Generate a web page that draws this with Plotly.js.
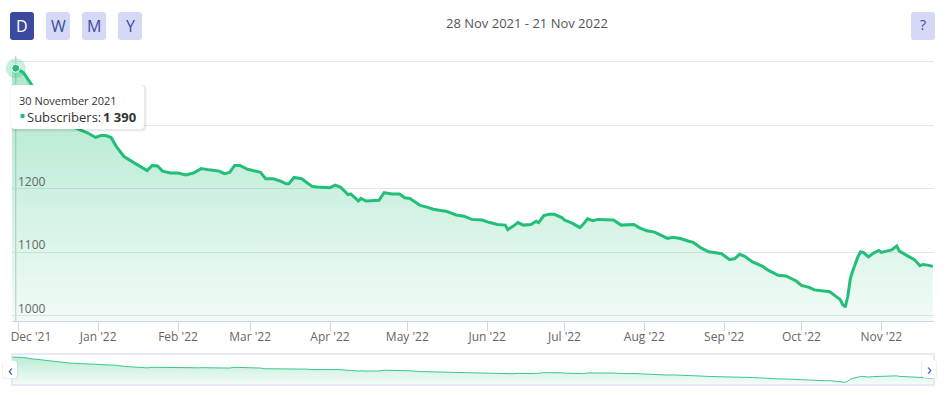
<!DOCTYPE html>
<html>
<head>
<meta charset="utf-8">
<script src="https://cdn.plot.ly/plotly-3.0.1.min.js"></script>
<style>html,body{margin:0;padding:0;background:#fff;}#chart{width:949px;height:395px;}</style>
</head>
<body>
<div id="chart"></div>
<script>
// ---------- data ----------
const dates = [
'2021-11-28','2021-11-29','2021-11-30','2021-12-03','2021-12-06','2021-12-10','2021-12-14','2021-12-18','2021-12-21','2021-12-25','2021-12-28','2021-12-31',
'2022-01-02','2022-01-04','2022-01-06','2022-01-08','2022-01-11','2022-01-15','2022-01-18','2022-01-20','2022-01-22','2022-01-24','2022-01-26','2022-01-29',
'2022-02-01','2022-02-04','2022-02-07','2022-02-09','2022-02-10','2022-02-13','2022-02-15','2022-02-17','2022-02-19','2022-02-21','2022-02-23','2022-02-25','2022-02-28',
'2022-03-03','2022-03-05','2022-03-07','2022-03-10','2022-03-13','2022-03-15','2022-03-16','2022-03-18','2022-03-21','2022-03-23','2022-03-25','2022-03-27','2022-03-30',
'2022-04-01','2022-04-03','2022-04-05','2022-04-08','2022-04-09','2022-04-12','2022-04-13','2022-04-15','2022-04-19','2022-04-20','2022-04-22','2022-04-25','2022-04-28','2022-04-30',
'2022-05-02','2022-05-06','2022-05-09','2022-05-11','2022-05-14','2022-05-16','2022-05-20','2022-05-23','2022-05-26','2022-05-28','2022-05-30',
'2022-06-02','2022-06-05','2022-06-08','2022-06-09','2022-06-11','2022-06-13','2022-06-15','2022-06-18','2022-06-20','2022-06-21','2022-06-23','2022-06-25','2022-06-27','2022-06-30',
'2022-07-01','2022-07-04','2022-07-07','2022-07-08','2022-07-10','2022-07-12','2022-07-14','2022-07-17','2022-07-20','2022-07-23','2022-07-25','2022-07-28','2022-07-30',
'2022-08-02','2022-08-05','2022-08-07','2022-08-10','2022-08-12','2022-08-15','2022-08-18','2022-08-20','2022-08-23','2022-08-26','2022-08-28','2022-08-31',
'2022-09-03','2022-09-05','2022-09-07','2022-09-09','2022-09-12','2022-09-16','2022-09-18','2022-09-20','2022-09-22','2022-09-25','2022-09-29',
'2022-10-01','2022-10-04','2022-10-06','2022-10-08','2022-10-10','2022-10-12','2022-10-14','2022-10-16','2022-10-17','2022-10-18','2022-10-19','2022-10-20','2022-10-21','2022-10-23','2022-10-24','2022-10-25','2022-10-27','2022-10-29','2022-10-31',
'2022-11-01','2022-11-03','2022-11-05','2022-11-07','2022-11-08','2022-11-11','2022-11-14','2022-11-16','2022-11-17','2022-11-19','2022-11-21'
];
const subscribers = [
1391,1391,1390,1383,1365,1345,1325,1310,1300,1293,1288,1281,
1284,1284,1281,1267,1251,1241,1233,1229,1237,1236,1228,1225,
1225,1222,1225,1230,1232,1230,1229,1228,1224,1226,1237,1237,1231,
1228,1226,1216,1216,1212,1208,1208,1218,1216,1210,1204,1203,1203,
1202,1206,1203,1191,1192,1181,1185,1181,1181,1182,1194,1192,1192,1186,
1185,1174,1171,1168,1166,1165,1159,1157,1152,1151,1151,
1147,1144,1143,1136,1141,1147,1143,1144,1149,1147,1158,1160,1160,1155,
1151,1146,1139,1143,1153,1150,1152,1152,1151,1143,1143,1144,1139,
1134,1132,1128,1122,1124,1122,1118,1116,1107,1101,1100,1098,
1089,1090,1097,1094,1085,1078,1072,1068,1064,1063,1055,
1048,1045,1041,1040,1038,1038,1032,1026,1018,1014,1031,1059,1072,1094,1101,1100,1093,1099,1103,
1100,1102,1104,1110,1102,1095,1088,1079,1081,1080,1078
];
const monthTicks = ['2021-12-01','2022-01-01','2022-02-01','2022-03-01','2022-04-01','2022-05-01','2022-06-01','2022-07-01','2022-08-01','2022-09-01','2022-10-01','2022-11-01'];
const monthLabels = ["Dec '21","Jan '22","Feb '22","Mar '22","Apr '22","May '22","Jun '22","Jul '22","Aug '22","Sep '22","Oct '22","Nov '22"];
const yTickVals = [1000,1100,1200,1300,1400];
const yTickText = ['1000','1100','1200','',''];   // 1300 sits under the tooltip, 1400 is not labelled
const rangeButtons = ['D','W','M','Y'];
const dateRangeText = '28 Nov 2021 - 21 Nov 2022';
const hoverIndex = 2;
const seriesName = 'Subscribers';

// ---------- layout helpers ----------
const L = 12, R = 934, T = 60, B = 385;
const W = R - L, H = B - T;
const px = x => (x - L) / W;
const py = y => (B - y) / H;
const mainBottom = 321, navTop = 354;
const green = '#22bf78';
const dark = '#3b4a9e';

function roundRect(x0, y0, x1, y1, r) {
  const p = (x, y) => px(x) + ',' + py(y);
  return 'M' + p(x0 + r, y0) + ' L' + p(x1 - r, y0) + ' Q' + p(x1, y0) + ' ' + p(x1, y0 + r) +
    ' L' + p(x1, y1 - r) + ' Q' + p(x1, y1) + ' ' + p(x1 - r, y1) +
    ' L' + p(x0 + r, y1) + ' Q' + p(x0, y1) + ' ' + p(x0, y1 - r) +
    ' L' + p(x0, y0 + r) + ' Q' + p(x0, y0) + ' ' + p(x0 + r, y0) + ' Z';
}
function pathShape(path, fill, line, layer) {
  return {type: 'path', xref: 'paper', yref: 'paper', path: path, fillcolor: fill,
    line: {color: line || 'rgba(0,0,0,0)', width: line ? 1 : 0}, layer: layer || 'above'};
}

const xRange = ['2021-11-28 13:00', '2022-11-21 11:00'];
const yRange = [992, 1403];
const y2Range = [974, 1435];

// label positions: like Highcharts, the first label is nudged right so it stays inside the plot
const DAY = 86400000;
const labelPos = monthTicks.map((d, i) => {
  if (i > 0) return d;
  const t = new Date(d + 'T00:00:00Z').getTime() + 4.9 * DAY;
  return new Date(t).toISOString().slice(0, 19).replace('T', ' ');
});

const traces = [
  {
    x: dates, y: subscribers, type: 'scatter', mode: 'lines', xaxis: 'x', yaxis: 'y',
    line: {color: green, width: 3},
    fill: 'tozeroy',
    fillgradient: {type: 'vertical', start: yRange[0], stop: Math.max(...subscribers),
      colorscale: [[0, 'rgba(34,191,120,0.06)'], [1, 'rgba(34,191,120,0.38)']]},
    hoverinfo: 'skip'
  },
  {
    x: [dates[hoverIndex]], y: [subscribers[hoverIndex]], type: 'scatter', mode: 'markers',
    xaxis: 'x', yaxis: 'y', cliponaxis: false,
    marker: {size: 20, color: 'rgba(34,191,120,0.25)'}, hoverinfo: 'skip'
  },
  {
    x: [dates[hoverIndex]], y: [subscribers[hoverIndex]], type: 'scatter', mode: 'markers',
    xaxis: 'x', yaxis: 'y', cliponaxis: false,
    marker: {size: 8, color: green, line: {color: '#ffffff', width: 1}}, hoverinfo: 'skip'
  },
  {
    x: dates, y: subscribers, type: 'scatter', mode: 'lines', xaxis: 'x2', yaxis: 'y2',
    line: {color: '#3cc98a', width: 1},
    fill: 'tozeroy',
    fillgradient: {type: 'vertical', start: y2Range[0], stop: Math.max(...subscribers),
      colorscale: [[0, 'rgba(34,191,120,0.04)'], [1, 'rgba(34,191,120,0.30)']]},
    hoverinfo: 'skip'
  },
  // invisible trace that carries the tick-mark axis
  {x: [monthTicks[0]], y: [yRange[0]], type: 'scatter', mode: 'markers', xaxis: 'x3', yaxis: 'y',
    marker: {size: 1, color: 'rgba(0,0,0,0)'}, hoverinfo: 'skip'}
];

const months = ['January','February','March','April','May','June','July','August','September','October','November','December'];
function fmtDate(s) {
  const [y, m, d] = s.split('-').map(Number);
  return d + ' ' + months[m - 1] + ' ' + y;
}
function fmtNum(v) {
  return String(v).replace(/\B(?=(\d{3})+(?!\d))/g, ' ');
}

const shapes = [];
// crosshair
shapes.push({type: 'line', xref: 'x', yref: 'paper', x0: dates[hoverIndex], x1: dates[hoverIndex],
  y0: py(mainBottom), y1: py(56), line: {color: '#c8c8c8', width: 1}, layer: 'below'});
// navigator border
shapes.push({type: 'rect', xref: 'paper', yref: 'paper', x0: 0, x1: 1, y0: 0, y1: py(navTop),
  line: {color: '#dfe2f7', width: 1.5}, fillcolor: 'rgba(0,0,0,0)', layer: 'above'});
// range buttons
rangeButtons.forEach((b, i) => {
  const x0 = 10 + i * 36;
  shapes.push(pathShape(roundRect(x0, 12, x0 + 24, 40, 3), i === 0 ? dark : '#d5d9f6'));
});
shapes.push(pathShape(roundRect(911, 12, 935, 40, 3), '#d5d9f6'));
// tooltip shadow + box
shapes.push(pathShape(roundRect(10, 85, 147, 132, 5), 'rgba(0,0,0,0.03)'));
shapes.push(pathShape(roundRect(11, 85, 146, 131, 4), 'rgba(0,0,0,0.05)'));
shapes.push(pathShape(roundRect(11, 85, 144, 129, 4), '#ffffff'));
// tooltip series marker (small square)
shapes.push({type: 'rect', xref: 'paper', yref: 'paper', x0: px(20.5), x1: px(24.5), y0: py(118), y1: py(114),
  fillcolor: green, line: {width: 0}, layer: 'above'});
// navigator arrow buttons
shapes.push(pathShape(roundRect(2, 361, 18, 379, 3), 'rgba(0,0,0,0.06)'));
shapes.push(pathShape(roundRect(3, 361, 17, 378, 3), '#ffffff'));
shapes.push(pathShape(roundRect(921, 360, 937, 379, 3), 'rgba(0,0,0,0.06)'));
shapes.push(pathShape(roundRect(922, 360, 936, 378, 3), '#ffffff'));

const annotations = [];
// y-axis labels, drawn just above their grid lines (Highcharts style)
yTickVals.forEach((v, i) => {
  if (!yTickText[i]) return;
  annotations.push({xref: 'paper', yref: 'y', x: px(16), y: v, text: yTickText[i], showarrow: false,
    xanchor: 'left', yanchor: 'bottom', yshift: -3, font: {size: 12, color: '#666666'}});
});
rangeButtons.forEach((b, i) => {
  annotations.push({xref: 'paper', yref: 'paper', x: px(22 + i * 36), y: py(26), text: b, showarrow: false,
    xanchor: 'center', yanchor: 'middle', font: {size: 16, color: i === 0 ? '#ffffff' : dark, family: 'Open Sans'}});
});
annotations.push({xref: 'paper', yref: 'paper', x: px(923), y: py(25), text: '?', showarrow: false,
  xanchor: 'center', yanchor: 'middle', font: {size: 14, color: dark}});
annotations.push({xref: 'paper', yref: 'paper', x: px(527), y: py(23), text: dateRangeText, showarrow: false,
  xanchor: 'center', yanchor: 'middle', font: {size: 13, color: '#555555'}});
// tooltip texts
annotations.push({xref: 'paper', yref: 'paper', x: px(18), y: py(100.5), showarrow: false, borderpad: 0,
  xanchor: 'left', yanchor: 'middle', align: 'left',
  text: fmtDate(dates[hoverIndex]), font: {size: 11, color: '#333333'}});
annotations.push({xref: 'paper', yref: 'paper', x: px(26), y: py(116.5), showarrow: false, borderpad: 0,
  xanchor: 'left', yanchor: 'middle', align: 'left',
  text: seriesName + ':', font: {size: 13, color: '#333333'}});
annotations.push({xref: 'paper', yref: 'paper', x: px(102), y: py(116.5), showarrow: false, borderpad: 0,
  xanchor: 'left', yanchor: 'middle', align: 'left',
  text: '<b>' + fmtNum(subscribers[hoverIndex]) + '</b>', font: {size: 13, color: '#333333'}});
annotations.push({xref: 'paper', yref: 'paper', x: px(10), y: py(369.5), text: '\u2039', showarrow: false,
  xanchor: 'center', yanchor: 'middle', font: {size: 16, color: dark}});
annotations.push({xref: 'paper', yref: 'paper', x: px(929), y: py(369), text: '\u203A', showarrow: false,
  xanchor: 'center', yanchor: 'middle', font: {size: 16, color: dark}});

const layout = {
  width: 949, height: 395,
  margin: {l: L, r: 949 - R, t: T, b: 395 - B, pad: 0},
  paper_bgcolor: '#ffffff', plot_bgcolor: 'rgba(0,0,0,0)',
  font: {family: 'Open Sans, sans-serif', color: '#666666', size: 12},
  showlegend: false,
  hovermode: false,
  xaxis: {
    type: 'date', range: xRange, domain: [0, 1], anchor: 'y',
    tickvals: labelPos, ticktext: monthLabels,
    ticks: '', ticklabeloverflow: 'allow', ticklabelstandoff: 5,
    showline: true, linecolor: '#ccd6eb', linewidth: 1,
    showgrid: false, zeroline: false,
    tickfont: {size: 12, color: '#666666'}, fixedrange: true
  },
  xaxis3: {
    type: 'date', range: xRange, overlaying: 'x', anchor: 'y', side: 'bottom',
    tickvals: monthTicks, showticklabels: false,
    ticks: 'outside', ticklen: 9, tickcolor: '#ccd6eb', tickwidth: 1,
    showline: false, showgrid: false, zeroline: false, fixedrange: true
  },
  yaxis: {
    range: yRange, domain: [py(mainBottom), 1], anchor: 'x',
    tickvals: yTickVals, showticklabels: false, ticks: '',
    gridcolor: '#e6e6e6', gridwidth: 1, zeroline: false, showline: false, fixedrange: true
  },
  xaxis2: {
    type: 'date', range: xRange, domain: [0, 1], anchor: 'y2',
    showticklabels: false, showgrid: false, zeroline: false, showline: false, ticks: '', fixedrange: true
  },
  yaxis2: {
    range: y2Range, domain: [0, py(navTop)], anchor: 'x2',
    showticklabels: false, showgrid: false, zeroline: false, showline: false, ticks: '', fixedrange: true
  },
  shapes: shapes,
  annotations: annotations
};

Plotly.newPlot('chart', traces, layout, {displayModeBar: false, staticPlot: true});
</script>
</body>
</html>
